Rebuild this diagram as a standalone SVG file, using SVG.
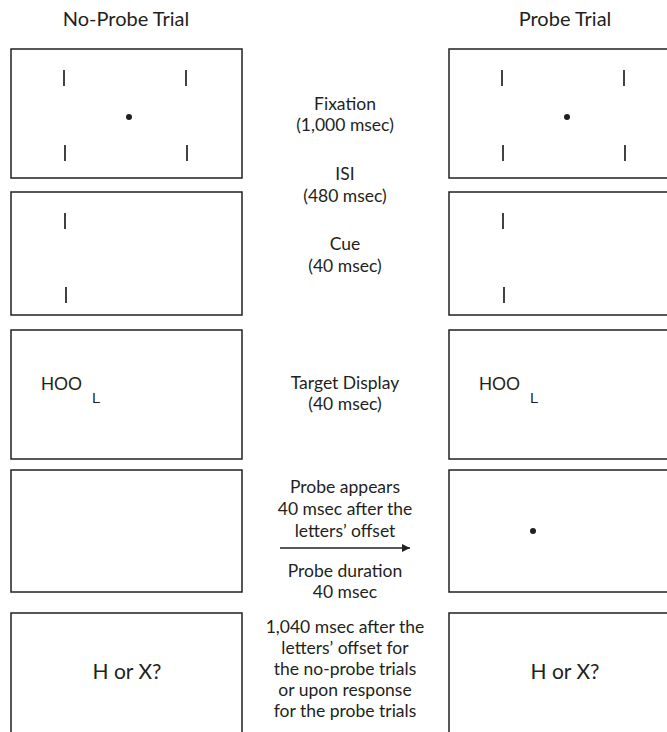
<svg xmlns="http://www.w3.org/2000/svg" width="667" height="732" viewBox="0 0 667 732">
<style>
.box{fill:#fff;stroke:#231f20;stroke-width:1.5}
.tick{stroke:#231f20;stroke-width:1.7}
.dot{fill:#231f20}
.lbl{font-family:Lato,"Open Sans",sans-serif;font-size:17.5px;fill:#231f20;text-anchor:middle}
.ttl{font-family:Lato,"Open Sans",sans-serif;font-size:20px;fill:#231f20;text-anchor:middle}
.ask{font-family:Lato,"Open Sans",sans-serif;font-size:21px;fill:#231f20;text-anchor:middle}
.hoo{font-family:"Liberation Sans",Arial,sans-serif;font-size:18px;fill:#231f20}
.sub{font-family:"Liberation Sans",Arial,sans-serif;font-size:15px;fill:#231f20}
</style>
<defs>
<marker id="ah" viewBox="0 0 10 10" refX="10" refY="5" markerWidth="10" markerHeight="8" markerUnits="userSpaceOnUse" orient="auto">
<path d="M0,0 L10,5 L0,10 z" fill="#231f20"/>
</marker>
</defs>
<rect width="667" height="732" fill="#fff"/>
<text class="ttl" x="126" y="26">No-Probe Trial</text>
<text class="ttl" x="565" y="26">Probe Trial</text>

<g id="np-fixation">
<rect class="box" x="11" y="49" width="231" height="129"/>
<line class="tick" x1="64" y1="70" x2="64" y2="86"/>
<line class="tick" x1="186" y1="70" x2="186" y2="86"/>
<line class="tick" x1="65" y1="145" x2="65" y2="161"/>
<line class="tick" x1="187" y1="145" x2="187" y2="161"/>
<circle class="dot" cx="129" cy="117" r="3"/>
</g>
<g id="np-cue">
<rect class="box" x="11" y="192" width="231" height="123"/>
<line class="tick" x1="65" y1="213" x2="65" y2="229"/>
<line class="tick" x1="66" y1="287" x2="66" y2="303"/>
</g>
<g id="np-target">
<rect class="box" x="11" y="330" width="231" height="129"/>
<text class="hoo" x="41" y="390">HOO</text>
<text class="sub" x="92" y="403">L</text>
</g>
<g id="np-probe">
<rect class="box" x="11" y="470" width="231" height="122"/>
</g>
<g id="np-response">
<rect class="box" x="11" y="613" width="231" height="135"/>
<text class="ask" x="127" y="679">H or X?</text>
</g>

<g id="p-fixation">
<rect class="box" x="449" y="49" width="231" height="129"/>
<line class="tick" x1="502" y1="70" x2="502" y2="86"/>
<line class="tick" x1="624" y1="70" x2="624" y2="86"/>
<line class="tick" x1="503" y1="145" x2="503" y2="161"/>
<line class="tick" x1="625" y1="145" x2="625" y2="161"/>
<circle class="dot" cx="567" cy="117" r="3"/>
</g>
<g id="p-cue">
<rect class="box" x="449" y="192" width="231" height="123"/>
<line class="tick" x1="503" y1="213" x2="503" y2="229"/>
<line class="tick" x1="504" y1="287" x2="504" y2="303"/>
</g>
<g id="p-target">
<rect class="box" x="449" y="330" width="231" height="129"/>
<text class="hoo" x="479" y="390">HOO</text>
<text class="sub" x="530" y="403">L</text>
</g>
<g id="p-probe">
<rect class="box" x="449" y="470" width="231" height="122"/>
<circle class="dot" cx="533" cy="531" r="3"/>
</g>
<g id="p-response">
<rect class="box" x="449" y="613" width="231" height="135"/>
<text class="ask" x="565" y="679">H or X?</text>
</g>

<g id="labels">
<text class="lbl" x="345" y="110">Fixation</text>
<text class="lbl" x="345" y="131">(1,000 msec)</text>
<text class="lbl" x="345" y="180">ISI</text>
<text class="lbl" x="345" y="202">(480 msec)</text>
<text class="lbl" x="345" y="250">Cue</text>
<text class="lbl" x="345" y="272">(40 msec)</text>
<text class="lbl" x="345" y="389">Target Display</text>
<text class="lbl" x="345" y="410">(40 msec)</text>
<text class="lbl" x="345" y="493">Probe appears</text>
<text class="lbl" x="345" y="515">40 msec after the</text>
<text class="lbl" x="345" y="537">letters’ offset</text>
<text class="lbl" x="345" y="577">Probe duration</text>
<text class="lbl" x="345" y="598">40 msec</text>
<text class="lbl" x="345" y="633">1,040 msec after the</text>
<text class="lbl" x="345" y="654">letters’ offset for</text>
<text class="lbl" x="345" y="675">the no-probe trials</text>
<text class="lbl" x="345" y="696">or upon response</text>
<text class="lbl" x="345" y="717">for the probe trials</text>
</g>

<g id="connectors">
<line x1="280" y1="548" x2="410" y2="548" stroke="#231f20" stroke-width="1.7" marker-end="url(#ah)"/>
</g>
</svg>
